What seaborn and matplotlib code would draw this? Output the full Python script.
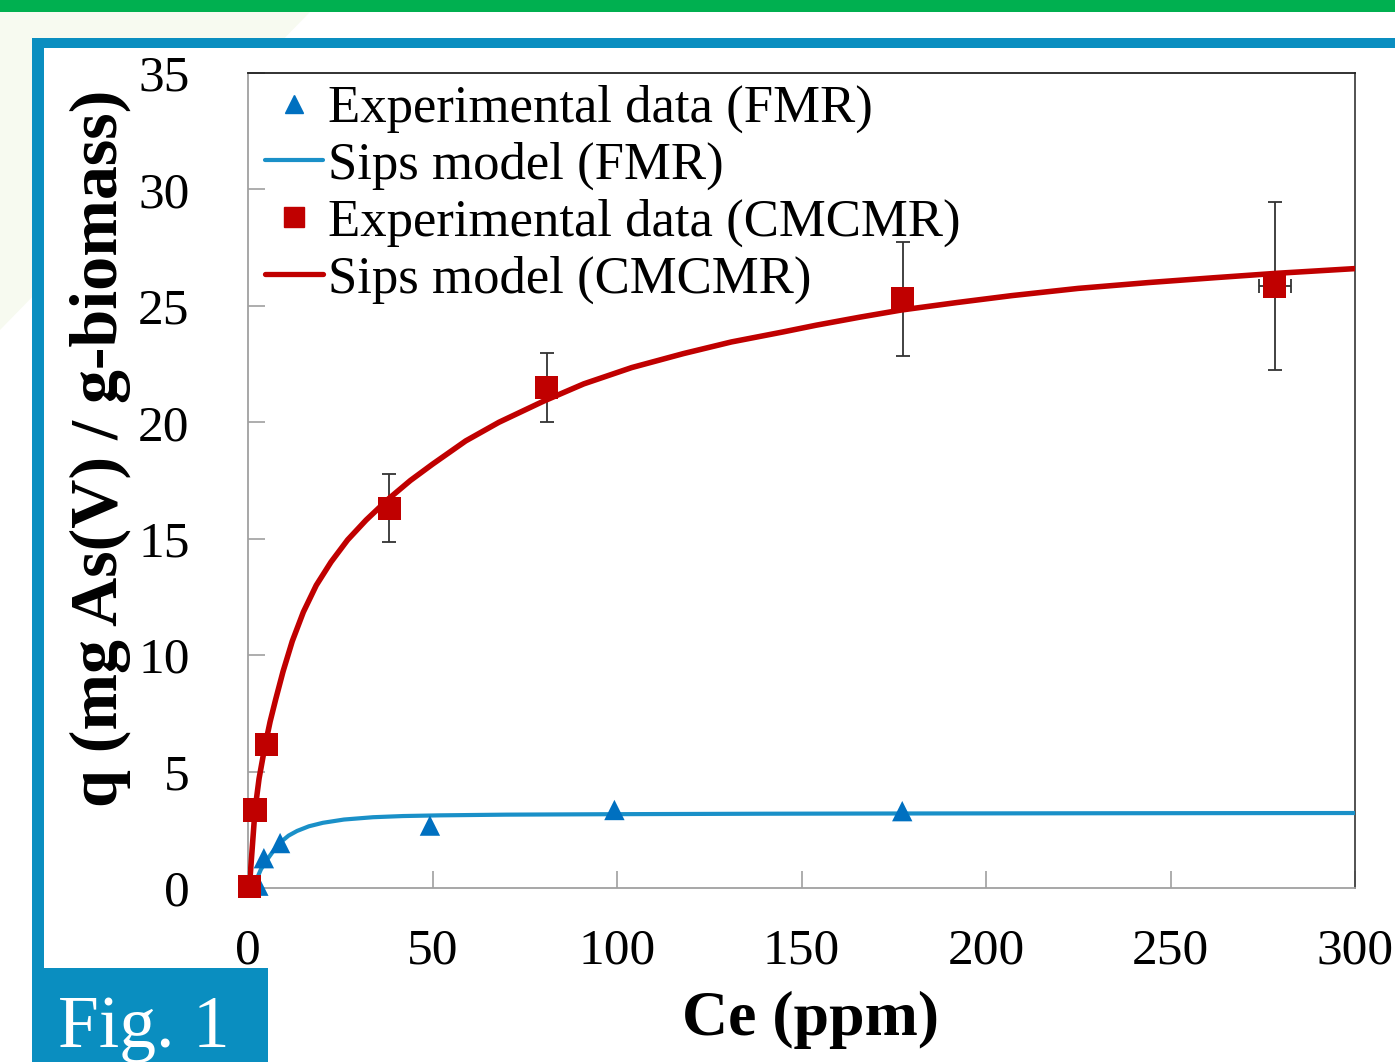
import numpy as np
import pandas as pd
import matplotlib
matplotlib.use('Agg')
import matplotlib.pyplot as plt
import seaborn as sns
from matplotlib.lines import Line2D
from matplotlib.patches import Rectangle, Polygon

# ---------------- data ----------------
fmr_ce = [2.8, 4.3, 8.7, 49.3, 99.3, 177.3]
fmr_q = [0.1, 1.28, 1.93, 2.68, 3.35, 3.3]

fmr_model_ce = [0.5, 1.5, 2.4, 3.5, 5.1, 7.0, 8.7, 11.0, 13.3, 16.5, 20.3, 26.0,
                33.9, 42.0, 52.0, 70.0, 99.0, 140.0, 177.0, 230.0, 300.0]
fmr_model_q = [0.0, 0.15, 0.4, 0.8, 1.2, 1.62, 1.95, 2.25, 2.45, 2.65, 2.8, 2.94,
               3.04, 3.09, 3.12, 3.15, 3.17, 3.19, 3.2, 3.21, 3.22]

cmc_ce = [0.5, 1.9, 4.9, 38.3, 81.0, 177.5, 278.3]
cmc_q = [0.05, 3.35, 6.15, 16.3, 21.5, 25.3, 25.85]
cmc_yerr = [0.0, 0.0, 0.0, 1.46, 1.48, 2.45, 3.6]
cmc_xerr = [0.0, 0.0, 0.0, 0.0, 0.0, 0.0, 4.3]

cmc_model_ce = [0.4, 1.0, 1.9, 3.0, 4.6, 6.0, 7.5, 9.5, 12.0, 15.0, 18.5, 22.5,
                27.0, 32.0, 38.0, 44.0, 50.0, 59.0, 68.0, 80.0, 91.0, 104.0,
                118.0, 131.0, 145.0, 154.0, 166.0, 177.0, 192.0, 207.0, 225.0,
                244.0, 262.0, 279.0, 300.0]
cmc_model_q = [0.1, 1.4, 3.35, 4.7, 6.1, 7.15, 8.1, 9.3, 10.6, 11.85, 13.0, 14.0,
               14.95, 15.8, 16.7, 17.5, 18.2, 19.2, 20.0, 20.9, 21.65, 22.35,
               22.95, 23.45, 23.88, 24.17, 24.52, 24.82, 25.14, 25.44, 25.75,
               26.0, 26.21, 26.4, 26.6]

legend_labels = ["Experimental data (FMR)", "Sips model (FMR)",
                 "Experimental data (CMCMR)", "Sips model (CMCMR)"]
x_ticks = [0, 50, 100, 150, 200, 250, 300]
y_ticks = [0, 5, 10, 15, 20, 25, 30, 35]

# ---------------- style ----------------
sns.set_theme(style='white')
plt.rcParams['font.family'] = ['Liberation Serif', 'DejaVu Serif']
plt.rcParams['text.color'] = 'black'
plt.rcParams['axes.labelcolor'] = 'black'
plt.rcParams['xtick.color'] = 'black'
plt.rcParams['ytick.color'] = 'black'

RED = '#C00000'
BLUE_PT = '#0070C0'
BLUE_LN = '#1A90C8'
FRAME = '#0A8EC0'
W, H = 1395, 1062

fig = plt.figure(figsize=(W / 100, H / 100), dpi=100)
fig.patch.set_facecolor('white')

def fx(px):
    return px / W

def fy(py):
    return 1 - py / H

# decorations
fig.patches.append(Polygon([[0, fy(12)], [fx(310), fy(12)], [0, fy(330)]], closed=True,
                           transform=fig.transFigure, facecolor='#f7faf0',
                           edgecolor='none', zorder=-3))
fig.patches.append(Rectangle((fx(44), 0), 1, fy(48), transform=fig.transFigure,
                             facecolor='white', edgecolor='none', zorder=-2))
fig.patches.append(Rectangle((0, fy(12)), 1, 12 / H, transform=fig.transFigure,
                             facecolor='#00B050', edgecolor='none', zorder=-1))
fig.patches.append(Rectangle((fx(32), fy(48)), 1, 10 / H, transform=fig.transFigure,
                             facecolor=FRAME, edgecolor='none', zorder=-1))
fig.patches.append(Rectangle((fx(32), 0), 12 / W, fy(38), transform=fig.transFigure,
                             facecolor=FRAME, edgecolor='none', zorder=-1))
fig.patches.append(Rectangle((fx(32), 0), 236 / W, 94 / H, transform=fig.transFigure,
                             facecolor=FRAME, edgecolor='none', zorder=1))
fig.text(fx(58), fy(1047), 'Fig. 1', color='white', fontsize=53, va='baseline',
         ha='left', zorder=2)

ax = fig.add_axes([fx(248), fy(888), 1107 / W, 815 / H])
ax.patch.set_alpha(0)

# error bars
ax.errorbar(cmc_ce, cmc_q, yerr=cmc_yerr, xerr=cmc_xerr, fmt='none',
            ecolor='#333333', elinewidth=1.3, capsize=5, capthick=1.3, zorder=2)

# FMR model + data
sns.lineplot(x=fmr_model_ce, y=fmr_model_q, ax=ax, color=BLUE_LN, linewidth=3.0,
             zorder=3, legend=False)
sns.scatterplot(x=fmr_ce, y=fmr_q, ax=ax, marker='^', s=215, color=BLUE_PT,
                edgecolor='none', linewidth=0, zorder=4, legend=False, clip_on=False)

# CMCMR model + data
sns.lineplot(x=cmc_model_ce, y=cmc_model_q, ax=ax, color=RED, linewidth=4.0,
             zorder=5, legend=False)
sns.scatterplot(x=cmc_ce, y=cmc_q, ax=ax, marker='s', s=275, color=RED,
                edgecolor='none', linewidth=0, zorder=6, legend=False, clip_on=False)

ax.set_xlim(0, 300)
ax.set_ylim(0, 35)
ax.set_xticks(x_ticks)
ax.set_yticks(y_ticks)
ax.set_xticklabels([str(t) for t in x_ticks])
ax.set_yticklabels([str(t) for t in y_ticks])

for s in ['left', 'bottom']:
    ax.spines[s].set_color('#a0a0a0')
    ax.spines[s].set_linewidth(1.3)
ax.spines['top'].set_color('#222222')
ax.spines['right'].set_color('#444444')
ax.spines['top'].set_linewidth(1.3)
ax.spines['right'].set_linewidth(1.3)

ax.tick_params(axis='both', direction='in', length=12, width=1.2, color='#a0a0a0',
               labelsize=37, labelcolor='black', bottom=True, left=True)
ax.tick_params(axis='x', pad=29)
ax.tick_params(axis='y', pad=42)

ax.set_xlabel('Ce (ppm)', fontsize=46, fontweight='bold', color='black')
ax.set_ylabel('q (mg As(V) / g-biomass)', fontsize=49, fontweight='bold', color='black')
ax.xaxis.set_label_coords((811 - 248) / 1107, (888 - 1020) / 815)
ax.xaxis.label.set_va('center')
ax.yaxis.set_label_coords((100 - 248) / 1107, (888 - 448) / 815)
ax.yaxis.label.set_va('center')

handles = [
    Line2D([], [], marker='^', color=BLUE_PT, linestyle='none', markersize=13),
    Line2D([], [], color=BLUE_LN, linewidth=3.0),
    Line2D([], [], marker='s', color=RED, linestyle='none', markersize=14),
    Line2D([], [], color=RED, linewidth=3.8),
]
leg = ax.legend(handles, legend_labels, loc='upper left',
                bbox_to_anchor=((265 - 248) / 1107, 1.0 - 12 / 815),
                frameon=False, fontsize=38, handlelength=1.1, handletextpad=0.1,
                labelspacing=0.16, borderpad=0, borderaxespad=0)
for t in leg.get_texts():
    t.set_color('black')

fig.savefig('out.png', dpi=100)
